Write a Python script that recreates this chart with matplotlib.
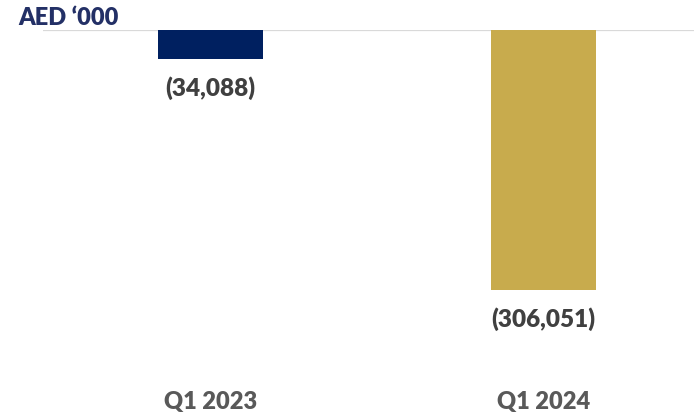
import matplotlib.pyplot as plt

# data (AED '000)
categories = ["Q1 2023", "Q1 2024"]
values = [-34088, -306051]
value_labels = ["(34,088)", "(306,051)"]
bar_colors = ["#002060", "#C8AB4D"]

plt.rcParams['font.family'] = ['Lato', 'DejaVu Sans']

fig = plt.figure(figsize=(6.94, 4.18), dpi=100)
W, H = 694, 418
# axes: left at the zero line start, top at the zero line
ax = fig.add_axes([43 / W, 1 - 380 / H, 1 - 43 / W, (380 - 30) / H])

x = list(range(len(categories)))
ax.bar(x, [v / 1000 for v in values], width=0.315, color=bar_colors, zorder=2)
ax.axhline(0, color="#D9D9D9", linewidth=1.6, zorder=1)

for xi, v, lab in zip(x, values, value_labels):
    ax.annotate(lab, xy=(xi, v / 1000), xytext=(0, -21), textcoords="offset points",
                ha="center", va="center", fontsize=17.5, fontweight="heavy", color="#404040")

ax.set_xlim(-0.503, 1.452)
ax.set_ylim(-(380 - 30) / 0.8496, 0)

ax.set_xticks(x)
ax.set_xticklabels(categories, fontsize=17, fontweight="heavy", color="#595959")
ax.tick_params(axis="x", length=0, pad=8)
ax.set_yticks([])
for s in ax.spines.values():
    s.set_visible(False)

fig.text(18 / W, 1 - 18 / H, "AED \u2018000", fontsize=17, fontweight="heavy",
         color="#233066", ha="left", va="center")

fig.savefig("out.png", dpi=100)
